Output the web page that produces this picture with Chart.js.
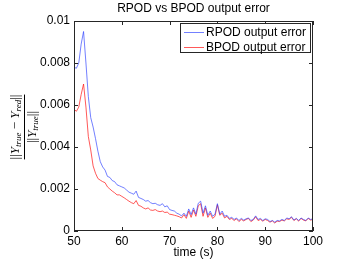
<!DOCTYPE html>
<html>
<head>
<meta charset="utf-8">
<script src="https://cdn.jsdelivr.net/npm/chart.js@4"></script>
<style>body{margin:0;background:#fff}</style>
</head>
<body>
<canvas id="myChart" width="346" height="260"></canvas>
<script>
// sample times (s)
const times = [50,50.5,51,51.5,52,52.5,53,53.5,54,54.5,
  55,55.5,56,56.5,57,57.5,58,58.5,59,59.5,
  60,60.5,61,61.5,62,62.5,63,63.5,64,64.5,
  65,65.5,66,66.5,67,67.5,68,68.5,69,69.5,
  70,70.5,71,71.5,72,72.5,73,73.5,74,74.5,
  75,75.5,76,76.5,77,77.5,78,78.5,79,79.5,
  80,80.5,81,81.5,82,82.5,83,83.5,84,84.5,
  85,85.5,86,86.5,87,87.5,88,88.5,89,89.5,
  90,90.5,91,91.5,92,92.5,93,93.5,94,94.5,
  95,95.5,96,96.5,97,97.5,98,98.5,99,99.5,100];

const rpod = [0.0078,0.00775,0.0080,0.0089,0.0095,0.0080,0.0064,0.0054,0.00495,0.0044,
  0.0038,0.0033,0.00305,0.0029,0.0026,0.00255,0.0024,0.00235,0.0022,0.00215,
  0.0021,0.00205,0.00195,0.00185,0.0018,0.00175,0.0019,0.0016,0.00155,0.0015,
  0.00142,0.00145,0.00135,0.0013,0.00132,0.00125,0.00122,0.0013,0.00115,0.0012,
  0.00102,0.00098,0.00095,0.00085,0.0008,0.00072,0.00085,0.0007,0.00105,0.00078,
  0.0011,0.0008,0.00132,0.00142,0.00085,0.0012,0.00075,0.00095,0.0007,0.0008,
  0.0013,0.0008,0.00095,0.0007,0.00075,0.0006,0.00065,0.00055,0.00062,0.0005,
  0.0006,0.00052,0.00058,0.00062,0.0005,0.00055,0.00072,0.00055,0.0006,0.0005,
  0.00058,0.00055,0.00045,0.0005,0.00042,0.0005,0.00048,0.00055,0.0005,0.00062,
  0.00058,0.00068,0.00052,0.0006,0.0005,0.00062,0.00055,0.0005,0.00062,0.00055,
  0.00058];

const bpod = [0.0058,0.0057,0.0059,0.0065,0.0070,0.0059,0.0045,0.00386,0.0031,0.00275,
  0.0025,0.00242,0.00235,0.0023,0.0021,0.0020,0.0019,0.00182,0.00172,0.00172,
  0.00165,0.00158,0.0015,0.00142,0.00135,0.0013,0.00145,0.00122,0.00118,0.0011,
  0.00105,0.0011,0.001,0.00098,0.00102,0.00095,0.00092,0.00095,0.00088,0.0009,
  0.0008,0.00078,0.00075,0.00072,0.00068,0.00062,0.00078,0.0006,0.00095,0.00065,
  0.001,0.0007,0.0012,0.0013,0.0007,0.0011,0.00065,0.00085,0.0006,0.0007,
  0.00125,0.00075,0.00085,0.00062,0.0007,0.00055,0.0006,0.0005,0.00058,0.00045,
  0.00055,0.00048,0.00055,0.0006,0.00045,0.00052,0.00068,0.0005,0.00055,0.00047,
  0.00055,0.0005,0.00042,0.00048,0.00038,0.00047,0.00045,0.00052,0.00048,0.00058,
  0.00055,0.00065,0.0005,0.00058,0.00047,0.0006,0.00052,0.00048,0.0006,0.00052,
  0.00055];

const xTicks = [50,60,70,80,90,100];
const yTicks = [0,0.002,0.004,0.006,0.008,0.01];
const names = ['RPOD output error','BPOD output error'];
const colors = ['rgba(40,60,255,0.65)','rgba(255,25,25,0.72)'];

const font = "Liberation Sans, Arial, sans-serif";
const serif = "Liberation Serif, Times New Roman, serif";

// box, inward ticks, legend, y label
const matlabLook = {
  id: 'matlabLook',
  afterDraw(chart) {
    const {ctx, chartArea: a, scales: {x, y}} = chart;
    ctx.save();
    ctx.strokeStyle = '#262626';
    ctx.lineWidth = 1;
    ctx.strokeRect(a.left + 0.5, a.top + 0.5, a.right - a.left - 1, a.bottom - a.top - 1);
    ctx.beginPath();
    x.ticks.forEach(t => {
      const px = Math.round(x.getPixelForValue(t.value)) + 0.5;
      ctx.moveTo(px, a.bottom); ctx.lineTo(px, a.bottom - 4);
      ctx.moveTo(px, a.top); ctx.lineTo(px, a.top + 4);
    });
    y.ticks.forEach(t => {
      const py = Math.round(y.getPixelForValue(t.value)) + 0.5;
      ctx.moveTo(a.left, py); ctx.lineTo(a.left + 4, py);
      ctx.moveTo(a.right, py); ctx.lineTo(a.right - 4, py);
    });
    ctx.stroke();

    // legend
    const lx = a.right - 133, ly = a.top + 2, lw = 131, lh = 30;
    ctx.fillStyle = '#fff';
    ctx.fillRect(lx, ly, lw, lh);
    ctx.strokeRect(lx + 0.5, ly + 0.5, lw - 1, lh - 1);
    ctx.font = '12px ' + font;
    ctx.textBaseline = 'middle';
    chart.data.datasets.forEach((ds, i) => {
      const cy = ly + 9 + i * 15;
      ctx.strokeStyle = ds.borderColor;
      ctx.beginPath();
      ctx.moveTo(lx + 4, cy + 0.5); ctx.lineTo(lx + 24, cy + 0.5);
      ctx.stroke();
      ctx.fillStyle = '#000';
      ctx.fillText(ds.label, lx + 26, cy + 1);
    });

    // y label: ||Y_true - Y_red|| / ||Y_true||
    const num = [['||', '13px ' + serif, 0], ['Y', 'italic 13px ' + serif, 0], ['true', 'italic 9px ' + serif, 2],
      [' \u2212 ', '13px ' + serif, 0], ['Y', 'italic 13px ' + serif, 0], ['red', 'italic 9px ' + serif, 2], ['||', '13px ' + serif, 0]];
    const den = [['||', '13px ' + serif, 0], ['Y', 'italic 13px ' + serif, 0], ['true', 'italic 9px ' + serif, 2], ['||', '13px ' + serif, 0]];
    const run = (parts, base) => {
      let w = 0;
      parts.forEach(p => { ctx.font = p[1]; w += ctx.measureText(p[0]).width; });
      let cx = -w / 2;
      parts.forEach(p => { ctx.font = p[1]; ctx.fillText(p[0], cx, base + p[2]); cx += ctx.measureText(p[0]).width; });
      return w;
    };
    ctx.translate(24, 127);
    ctx.rotate(-Math.PI / 2);
    ctx.fillStyle = '#000';
    ctx.textBaseline = 'alphabetic';
    ctx.textAlign = 'left';
    const w = run(num, -5);
    run(den, 12);
    ctx.strokeStyle = '#000';
    ctx.beginPath();
    ctx.moveTo(-w / 2, 0.5); ctx.lineTo(w / 2, 0.5);
    ctx.stroke();
    ctx.restore();
  }
};

new Chart(document.getElementById('myChart'), {
  type: 'line',
  data: {
    datasets: [{
      label: names[0],
      data: times.map((t, i) => ({x: t, y: rpod[i]})),
      borderColor: colors[0],
      borderWidth: 1,
      pointRadius: 0,
      fill: false
    }, {
      label: names[1],
      data: times.map((t, i) => ({x: t, y: bpod[i]})),
      borderColor: colors[1],
      borderWidth: 1,
      pointRadius: 0,
      fill: false
    }]
  },
  options: {
    responsive: false,
    animation: false,
    devicePixelRatio: 1,
    layout: {padding: {left: 0, right: 33, top: 0, bottom: 0}},
    plugins: {
      legend: {display: false},
      tooltip: {enabled: false},
      title: {
        display: true,
        fullSize: false,
        text: 'RPOD vs BPOD output error',
        color: '#000',
        font: {family: font, size: 12, weight: 'normal'},
        padding: {top: 1, bottom: 5.6}
      }
    },
    scales: {
      x: {
        type: 'linear',
        min: 50, max: 100,
        afterBuildTicks: s => { s.ticks = xTicks.map(v => ({value: v})); },
        afterFit: s => { s.height = 29; },
        grid: {display: false, drawTicks: false, tickLength: 0},
        border: {display: false},
        ticks: {color: '#000', font: {family: font, size: 12}, padding: 3, maxRotation: 0},
        title: {display: true, text: 'time (s)', color: '#000', font: {family: font, size: 12}, padding: 0}
      },
      y: {
        min: 0, max: 0.01,
        afterBuildTicks: s => { s.ticks = yTicks.map(v => ({value: v})); },
        afterFit: s => { s.width = 74; },
        grid: {display: false, drawTicks: false, tickLength: 0},
        border: {display: false},
        ticks: {color: '#000', font: {family: font, size: 12}, padding: 4,
          callback: v => v === 0 ? '0' : String(+v.toFixed(3))}
      }
    }
  },
  plugins: [matlabLook]
});
</script>
</body>
</html>
